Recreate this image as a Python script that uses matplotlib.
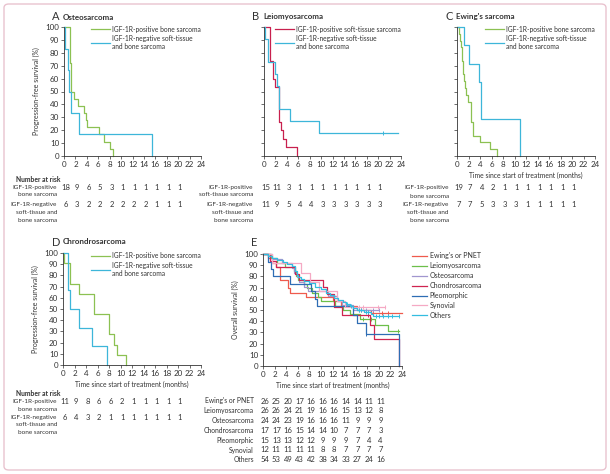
import matplotlib
matplotlib.use('Agg')
import matplotlib.pyplot as plt
from matplotlib.patches import FancyBboxPatch
from matplotlib.transforms import blended_transform_factory

plt.rcParams['font.family'] = ['Lato', 'DejaVu Sans']

# Panel A - osteosarcoma (drop times, survival after drop)
a_pos_t = [1.1, 1.3, 1.7, 2.5, 3.5, 3.8, 4.1, 6.1, 7.0, 8.0, 8.6]
a_pos_s = [72.2, 50.0, 44.4, 38.9, 33.3, 27.8, 22.2, 16.7, 11.1, 5.6, 0]
a_neg_t = [0.2, 0.7, 0.9, 1.3, 2.6, 15.4]
a_neg_s = [83.3, 66.7, 50.0, 33.3, 16.7, 0]

# Panel B - leiomyosarcoma
b_pos_t = [1.0, 1.5, 2.0, 2.6, 3.0, 3.3, 3.9, 5.8]
b_pos_s = [73.3, 60.0, 53.3, 26.7, 20.0, 13.3, 6.7, 0]
b_neg_t = [0.2, 0.7, 2.0, 2.3, 2.6, 4.6, 9.6]
b_neg_s = [90.9, 72.7, 63.6, 54.5, 36.4, 27.3, 18.2]
b_neg_end = 23.5
b_neg_cens = [20.8]

# Panel C - Ewing's sarcoma
c_pos_t = [0.3, 0.5, 0.7, 0.8, 0.9, 1.0, 1.1, 1.2, 1.4, 1.6, 1.9, 2.4, 2.7, 4.0, 5.8, 6.9]
c_pos_s = [94.7, 89.5, 84.2, 78.9, 73.7, 68.4, 63.2, 57.9, 52.6, 47.4, 42.1, 26.3, 15.8, 10.5, 5.3, 0]
c_neg_t = [1.3, 2.1, 3.9, 4.1, 10.9]
c_neg_s = [85.7, 71.4, 57.1, 28.6, 0]

# Panel D - chondrosarcoma
d_pos_t = [0.15, 1.3, 2.7, 5.4, 8.0, 8.8, 9.4, 11.0]
d_pos_s = [90.9, 72.7, 63.6, 45.5, 27.3, 18.2, 9.1, 0]
d_neg_t = [0.8, 1.3, 2.7, 5.1, 7.7]
d_neg_s = [66.7, 50.0, 33.3, 16.7, 0]

# Panel E - overall survival by histology
ewing_t = [0.9, 1.6, 2.2, 2.9, 4.3, 4.7, 7.5, 12.0, 13.5, 16.2, 18.6]
ewing_s = [96.2, 92.3, 88.5, 76.9, 69.2, 65.4, 61.5, 57.7, 53.8, 50.0, 47.0]
ewing_end = 24.0
ewing_cens = [17.0, 19.0, 20.5, 21.5]

leio_t = [1.3, 2.5, 3.8, 5.3, 5.7, 6.1, 7.0, 7.6, 8.4, 9.5, 10.0, 12.4, 13.8, 15.0, 16.7, 19.3, 21.5]
leio_s = [96.2, 92.3, 88.5, 84.6, 80.8, 76.9, 73.1, 69.2, 65.4, 61.5, 57.7, 53.8, 50.0, 46.2, 42.3, 37.0, 31.5]
leio_end = 23.5
leio_cens = [17.3, 18.6, 23.3]

osteo_t = [1.5, 3.2, 5.0, 5.4, 5.8, 6.3, 7.0, 7.8, 11.2, 12.8, 13.6, 15.5]
osteo_s = [95.8, 91.7, 87.5, 83.3, 79.2, 75.0, 70.8, 66.7, 62.5, 58.3, 54.2, 50.1]
osteo_end = 20.0
osteo_cens = [16.5, 17.8, 19.0, 20.0]

chondro_t = [1.2, 2.3, 5.5, 6.3, 10.4, 11.0, 12.2, 13.6, 18.5, 19.2, 23.5]
chondro_s = [94.1, 88.2, 82.4, 76.5, 70.6, 64.7, 52.9, 45.5, 36.4, 24.3, 0]
chondro_cens = [18.2]

pleo_t = [0.9, 1.3, 1.8, 4.6, 8.3, 9.0, 9.4, 15.6, 16.2, 17.7, 23.5]
pleo_s = [93.3, 86.7, 80.0, 73.3, 66.7, 60.0, 53.3, 45.7, 38.1, 28.6, 0]
pleo_cens = [17.7]

syn_t = [1.5, 6.6, 8.2, 9.6, 12.8, 14.2]
syn_s = [91.7, 83.3, 75.0, 66.7, 58.3, 52.5]
syn_end = 21.0
syn_cens = [16.5, 17.2, 19.8, 21.0]

other_t = [0.8, 1.5, 2.5, 3.5, 4.2, 5.0, 5.5, 5.8, 6.1, 6.5, 7.0, 8.0, 9.0, 10.0, 10.8,
           11.5, 12.2, 13.0, 13.8, 14.3, 15.0, 15.6, 16.2, 17.5, 18.6, 19.0]
other_s = [98.1, 96.3, 94.4, 92.6, 90.7, 88.9, 85.2, 81.5, 79.6, 77.8, 75.9, 74.1, 70.4, 68.5, 64.8,
           63.0, 61.1, 59.3, 57.4, 55.6, 53.7, 51.9, 50.0, 48.1, 46.3, 44.8]
other_end = 23.5
other_cens = [14.5, 15.2, 16.5, 17.0, 17.8, 18.2, 19.5, 20.0, 20.8, 21.5, 22.3, 23.5]

# Numbers at risk (months 0, 2, ..., 20)
risk_months = [0, 2, 4, 6, 8, 10, 12, 14, 16, 18, 20]
a_risk_pos = [18, 9, 6, 5, 3, 1, 1, 1, 1, 1, 1]
a_risk_neg = [6, 3, 2, 2, 2, 2, 2, 2, 1, 1, 1]
b_risk_pos = [15, 11, 3, 1, 1, 1, 1, 1, 1, 1, 1]
b_risk_neg = [11, 9, 5, 4, 4, 3, 3, 3, 3, 3, 3]
c_risk_pos = [19, 7, 4, 2, 1, 1, 1, 1, 1, 1, 1]
c_risk_neg = [7, 7, 5, 3, 3, 3, 1, 1, 1, 1, 1]
d_risk_pos = [11, 9, 8, 6, 6, 2, 1, 1, 1, 1, 1]
d_risk_neg = [6, 4, 3, 2, 1, 1, 1, 1, 1, 1, 1]

e_groups = ["Ewing's or PNET", 'Leiomyosarcoma', 'Osteosarcoma', 'Chondrosarcoma',
            'Pleomorphic', 'Synovial', 'Others']
e_risk = [
    [26, 25, 20, 17, 16, 16, 16, 14, 14, 11, 11],
    [26, 26, 24, 21, 19, 16, 16, 15, 13, 12, 8],
    [24, 24, 23, 19, 16, 16, 16, 11, 9, 9, 9],
    [17, 17, 16, 15, 14, 14, 10, 7, 7, 7, 3],
    [15, 13, 13, 12, 12, 9, 9, 9, 7, 4, 4],
    [12, 11, 11, 11, 11, 8, 8, 7, 7, 7, 7],
    [54, 53, 49, 43, 42, 38, 34, 33, 27, 24, 16],
]

GREEN = '#8cc152'
CYAN = '#3db6d9'
CRIMSON = '#c8204e'
e_colors = ['#ef5a4d', '#6cbf4a', '#a196cf', '#cf2450', '#2e6db4', '#f5a9c4', '#33bde0']
TXT = '#333333'
FS = 4.6      # legend / risk-table labels
FS_NUM = 5.8  # tick labels and risk counts

W, H = 610, 474
fig = plt.figure(figsize=(W / 100, H / 100), dpi=100)

# pink rounded frame
fig.patches.append(FancyBboxPatch((4 / W, 4 / H), 602 / W, 466 / H,
                                  boxstyle='round,pad=0,rounding_size=0.008',
                                  transform=fig.transFigure, fill=False,
                                  edgecolor='#e9c3cf', lw=1.0))


def add_ax(x0, x1, y0, y1):
    ax = fig.add_axes([x0 / W, 1 - y1 / H, (x1 - x0) / W, (y1 - y0) / H])
    ax.set_xlim(0, 24)
    ax.set_ylim(0, 100)
    ax.set_xticks(range(0, 25, 2))
    ax.set_yticks(range(0, 101, 10))
    for s in ['top', 'right']:
        ax.spines[s].set_visible(False)
    for s in ['left', 'bottom']:
        ax.spines[s].set_linewidth(0.6)
        ax.spines[s].set_color(TXT)
    ax.tick_params(length=2, width=0.5, pad=1.5, labelsize=FS_NUM, colors=TXT)
    ax.patch.set_alpha(0)
    return ax


def km(ax, times, surv, color, end=None, cens=None, label=None):
    x = [0] + list(times)
    y = [100] + list(surv)
    x.append(end if end is not None else times[-1])
    y.append(surv[-1])
    ax.step(x, y, where='post', color=color, lw=0.9, label=label, clip_on=False)
    if cens:
        # survival at each censor time
        cy = []
        for c in cens:
            v = 100
            for t, s in zip(times, surv):
                if t <= c:
                    v = s
            cy.append(v)
        ax.plot(cens, cy, ls='none', marker='|', ms=3, mew=0.7, color=color, clip_on=False)


def title(x, y, letter, name):
    fig.text(x / W, 1 - y / H, letter, fontsize=8, color=TXT, va='center', ha='left')
    fig.text((x + 11) / W, 1 - y / H, name, fontsize=5.8, fontweight='bold',
             color=TXT, va='center', ha='left')


def risk_rows(ax, label_x, rows, gap=8, fs=FS):
    tr = blended_transform_factory(ax.transData, fig.transFigure)
    for y, label, counts in rows:
        for i, line in enumerate(label.split('\n')):
            fig.text(label_x / W, 1 - (y + i * gap) / H, line, fontsize=fs, color=TXT,
                     ha='right', va='center')
        for m, n in zip(risk_months, counts):
            ax.text(m + 0.3, 1 - y / H, str(n), transform=tr, fontsize=FS_NUM - 0.3, color=TXT,
                    ha='center', va='center')


def pfs_legend(ax, pos_label, pos_color):
    ax.plot([], [], color=pos_color, lw=0.9, label=pos_label)
    ax.plot([], [], color=CYAN, lw=0.9, label='IGF-1R-negative soft-tissue\nand bone sarcoma')
    ax.legend(loc='upper right', bbox_to_anchor=(1.02, 1.03), frameon=False, fontsize=FS + 0.2,
              handlelength=2.8, handletextpad=0.4, labelspacing=0.35, borderaxespad=0,
              labelcolor=TXT)


def xlab(ax):
    ax.set_xlabel('Time since start of treatment (months)', fontsize=4.9, color=TXT,
                  labelpad=2.5)


def ylab(ax, text):
    ax.set_ylabel(text, fontsize=5.0, color=TXT, labelpad=4)


# Panel A
axA = add_ax(64, 201, 27, 156)
km(axA, a_pos_t, a_pos_s, GREEN)
km(axA, a_neg_t, a_neg_s, CYAN)
pfs_legend(axA, 'IGF-1R-positive bone sarcoma', GREEN)
ylab(axA, 'Progression-free survival (%)')
title(52, 17, 'A', 'Osteosarcoma')

# Panel B
axB = add_ax(264, 401, 27, 156)
km(axB, b_pos_t, b_pos_s, CRIMSON)
km(axB, b_neg_t, b_neg_s, CYAN, end=b_neg_end, cens=b_neg_cens)
pfs_legend(axB, 'IGF-1R-positive soft-tissue sarcoma', CRIMSON)
axB.set_yticklabels([])
title(252, 17, 'B', 'Leiomyosarcoma')

# Panel C
axC = add_ax(457, 595, 27, 156)
km(axC, c_pos_t, c_pos_s, GREEN)
km(axC, c_neg_t, c_neg_s, CYAN)
pfs_legend(axC, 'IGF-1R-positive bone sarcoma', GREEN)
axC.set_yticklabels([])
xlab(axC)
title(445, 17, 'C', "Ewing's sarcoma")

fig.text(16 / W, 1 - 179 / H, 'Number at risk', fontsize=FS + 0.3, fontweight='bold',
         color=TXT, va='center')
risk_rows(axA, 57, [(187, 'IGF-1R-positive\nbone sarcoma', a_risk_pos),
                    (204, 'IGF-1R-negative\nsoft-tissue and\nbone sarcoma', a_risk_neg)])
risk_rows(axB, 253, [(187, 'IGF-1R-positive\nsoft-tissue sarcoma', b_risk_pos),
                     (204, 'IGF-1R-negative\nsoft-tissue and\nbone sarcoma', b_risk_neg)])
risk_rows(axC, 449, [(188, 'IGF-1R-positive\nbone sarcoma', c_risk_pos),
                     (205, 'IGF-1R-negative\nsoft-tissue and\nbone sarcoma', c_risk_neg)])

# Panel D
axD = add_ax(63, 201, 253, 365)
km(axD, d_pos_t, d_pos_s, GREEN)
km(axD, d_neg_t, d_neg_s, CYAN)
pfs_legend(axD, 'IGF-1R-positive bone sarcoma', GREEN)
ylab(axD, 'Progression-free survival (%)')
xlab(axD)
title(52, 242, 'D', 'Chrondrosarcoma')

fig.text(16 / W, 1 - 393 / H, 'Number at risk', fontsize=FS + 0.3, fontweight='bold',
         color=TXT, va='center')
risk_rows(axD, 57, [(402, 'IGF-1R-positive\nbone sarcoma', d_risk_pos),
                    (417, 'IGF-1R-negative\nsoft-tissue and\nbone sarcoma', d_risk_neg)],
          gap=7.5)

# Panel E
axE = add_ax(263, 402, 254, 366)
km(axE, ewing_t, ewing_s, e_colors[0], end=ewing_end, cens=ewing_cens, label=e_groups[0])
km(axE, leio_t, leio_s, e_colors[1], end=leio_end, cens=leio_cens, label=e_groups[1])
km(axE, osteo_t, osteo_s, e_colors[2], end=osteo_end, cens=osteo_cens, label=e_groups[2])
km(axE, chondro_t, chondro_s, e_colors[3], cens=chondro_cens, label=e_groups[3])
km(axE, pleo_t, pleo_s, e_colors[4], cens=pleo_cens, label=e_groups[4])
km(axE, syn_t, syn_s, e_colors[5], end=syn_end, cens=syn_cens, label=e_groups[5])
km(axE, other_t, other_s, e_colors[6], end=other_end, cens=other_cens, label=e_groups[6])
axE.legend(loc='upper left', bbox_to_anchor=(1.05, 1.04), frameon=False, fontsize=5.0,
           handlelength=2.2, handletextpad=0.4, labelspacing=0.42, borderaxespad=0,
           labelcolor=TXT)
ylab(axE, 'Overall survival (%)')
xlab(axE)
fig.text(251 / W, 1 - 242 / H, 'E', fontsize=8, color=TXT, va='center', ha='left')

risk_rows(axE, 254, [(401 + i * 9.8, g, r) for i, (g, r) in enumerate(zip(e_groups, e_risk))],
          fs=4.9)

fig.savefig('out.png', dpi=100)
